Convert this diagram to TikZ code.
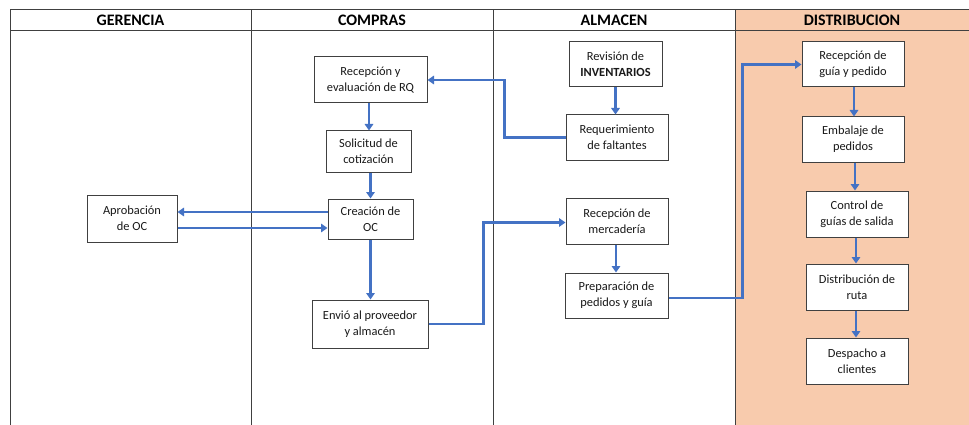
\documentclass[tikz,border=0pt]{standalone}
\usepackage{fontspec}
\setmainfont{Carlito}
\usetikzlibrary{arrows.meta}
\definecolor{flowblue}{HTML}{4472C4}
\definecolor{lanepeach}{HTML}{F8CBAD}
\definecolor{laneline}{HTML}{404040}
\begin{document}
\begin{tikzpicture}[x=1pt,y=-1pt,
  lane/.style={draw=laneline,line width=1pt},
  lanehead/.style={font=\fontsize{16}{19}\selectfont\bfseries,text=black},
  box/.style={draw=laneline,fill=white,line width=1pt,inner sep=0pt,align=center,
    font=\fontsize{12.4}{15.7}\selectfont,text=black!90},
  arr/.style={draw=flowblue,line width=2.2pt,-{Triangle[width=8.5pt,length=6.5pt]}}]
\useasboundingbox (0,0) rectangle (969,425);
\fill[white] (0,0) rectangle (969,425);
% swimlanes
\fill[lanepeach] (735,10) rectangle (969,425);
\draw[lane] (10,10) -- (969,10);
\draw[lane] (10,31) -- (969,31);
\foreach \xx in {10,251,493,735} \draw[lane] (\xx,10) -- (\xx,425);
\node[lanehead] (hg) at (130.5,20.5) {GERENCIA};
\node[lanehead] (hc) at (372,20.5) {COMPRAS};
\node[lanehead] (ha) at (614,20.5) {ALMACEN};
\node[lanehead] (hd) at (852,20.5) {DISTRIBUCION};
% process steps
\node[box,minimum width=113pt,minimum height=46pt] (rq) at (370.5,80) {Recepción y\\evaluación de RQ};
\node[box,minimum width=85pt,minimum height=41pt] (sol) at (368.5,151.5) {Solicitud de\\cotización};
\node[box,minimum width=90pt,minimum height=47pt] (apr) at (132,218.5) {Aprobación\\de OC};
\node[box,minimum width=85pt,minimum height=40pt] (oc) at (370.5,219) {Creación de\\OC};
\node[box,minimum width=116pt,minimum height=48pt] (env) at (370,324) {Envió al proveedor\\y almacén};
\node[box,minimum width=93pt,minimum height=45pt] (rev) at (615.5,64.5) {Revisión de\\\textbf{INVENTARIOS}};
\node[box,minimum width=102pt,minimum height=45pt] (req) at (617,137.5) {Requerimiento\\de faltantes};
\node[box,minimum width=102pt,minimum height=46pt] (rm) at (617,221) {Recepción de\\mercadería};
\node[box,minimum width=103pt,minimum height=45pt] (prep) at (616.5,295.5) {Preparación de\\pedidos y guía};
\node[box,minimum width=102pt,minimum height=45pt] (rg) at (853,64.5) {Recepción de\\guía y pedido};
\node[box,minimum width=102pt,minimum height=45pt] (emb) at (853,139.5) {Embalaje de\\pedidos};
\node[box,minimum width=102pt,minimum height=46pt] (ctrl) at (857,214) {Control de\\guías de salida};
\node[box,minimum width=102pt,minimum height=46pt] (dist) at (857,287) {Distribución de\\ruta};
\node[box,minimum width=102pt,minimum height=46pt] (desp) at (857,361) {Despacho a\\clientes};
% flow connectors
\draw[arr] (rev.south) -- (rev.south |- req.north);
\draw[arr] (req.west) -- ++(-61,0) |- (rq.east);
\draw[arr] ([xshift=-1.5pt]rq.south) -- ([xshift=-1.5pt]rq.south |- sol.north);
\draw[arr] (oc.north |- sol.south) -- (oc.north);
\draw[arr] ([yshift=7pt]oc.west) -- ([yshift=7pt]oc.west -| apr.east);
\draw[arr] ([yshift=-9.5pt]apr.east) -- ([yshift=-9.5pt]apr.east -| oc.west);
\draw[arr] (oc.south) -- (oc.south |- env.north);
\draw[arr] (env.east) -- ++(55,0) |- ([yshift=-1.5pt]rm.west);
\draw[arr] ([xshift=-1pt]rm.south) -- ([xshift=-1pt]rm.south |- prep.north);
\draw[arr] ([yshift=-2.5pt]prep.east) -- ++(74,0) |- (rg.west);
\draw[arr] ([xshift=1pt]rg.south) -- ([xshift=1pt]rg.south |- emb.north);
\draw[arr] ([xshift=2pt]emb.south) -- ([xshift=2pt]emb.south |- ctrl.north);
\draw[arr] ([xshift=-1pt]ctrl.south) -- ([xshift=-1pt]ctrl.south |- dist.north);
\draw[arr] ([xshift=-1pt]dist.south) -- ([xshift=-1pt]dist.south |- desp.north);
\end{tikzpicture}
\end{document}
